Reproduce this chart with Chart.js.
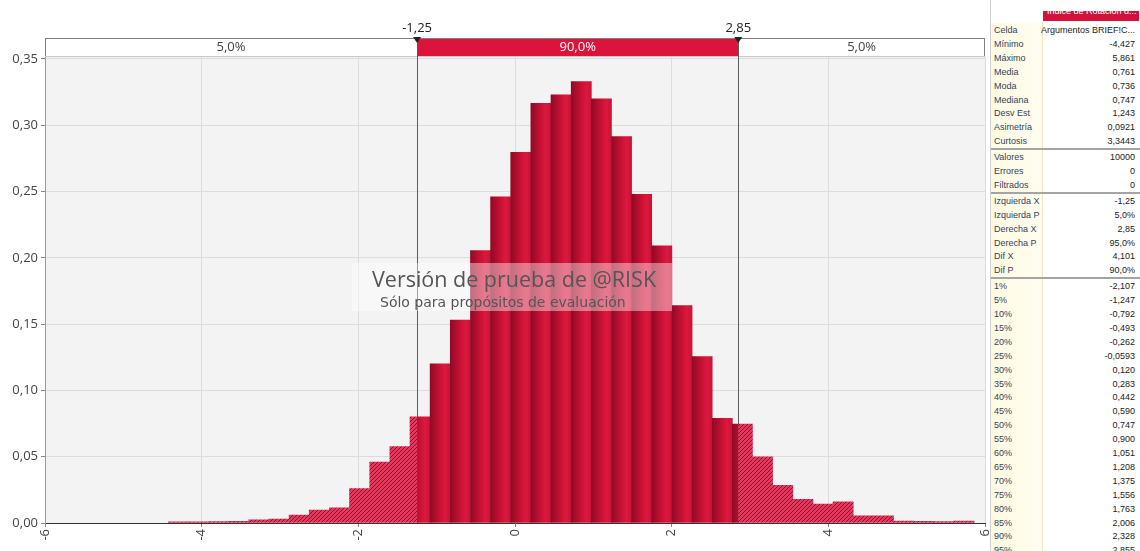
<!DOCTYPE html>
<html>
<head>
<meta charset="utf-8">
<script src="https://cdn.jsdelivr.net/npm/chart.js@4.4.1/dist/chart.umd.min.js"></script>
<style>
  body { margin: 0; background: #fff; width: 1140px; height: 551px; overflow: hidden; position: relative; }
  #wrap { position: absolute; left: 0; top: 0; width: 990px; height: 551px; }
  #stats { position: absolute; left: 990px; top: 0; width: 150px; height: 551px; overflow: hidden;
           font-family: "Liberation Sans", Arial, sans-serif; font-size: 9px; color: #222;
           border-left: 1px solid #cfcfcf; box-sizing: border-box; }
  #stats .lcol { position: absolute; left: 0; top: 23px; width: 51px; bottom: 0;
                 background: linear-gradient(to right, #fffbe2, #fffdf0); border-right: 1px solid #eee6c0; }
  #stats .head { position: absolute; left: 52px; top: 11px; width: 96px; height: 10px; overflow: hidden;
                 background: #d3123c; color: #fff; }
  #stats .head span { position: absolute; left: 4px; top: -5px; white-space: nowrap; }
  #stats .row { position: absolute; left: 0; width: 148px; height: 14px; line-height: 14px; }
  #stats .row .k { position: absolute; left: 3px; color: #34425a; white-space: nowrap; }
  #stats .row .v { position: absolute; right: 4px; white-space: nowrap; }
  #stats .sep { position: absolute; left: 0; width: 150px; height: 2px; background: #a4a4a4; }
</style>
</head>
<body>
<div id="wrap"><canvas id="histChart" width="990" height="551"></canvas></div>
<div id="stats"></div>

<script>
// histogram bins (centres) and density
const binCenters = [-4.298, -4.041, -3.784, -3.527, -3.270, -3.012, -2.755, -2.498, -2.241, -1.984,
                    -1.726, -1.469, -1.212, -0.955, -0.698, -0.440, -0.183, 0.074, 0.331, 0.588,
                    0.846, 1.103, 1.360, 1.617, 1.874, 2.132, 2.389, 2.646, 2.903, 3.160,
                    3.418, 3.675, 3.932, 4.189, 4.446, 4.704, 4.961, 5.218, 5.475, 5.732];
const density = [0.0008, 0.0008, 0.0010, 0.0012, 0.0023, 0.0030, 0.0060, 0.0098, 0.0115, 0.0260,
                 0.0460, 0.0576, 0.0800, 0.1200, 0.1530, 0.2054, 0.2460, 0.2796, 0.3166, 0.3229,
                 0.3330, 0.3200, 0.2914, 0.2480, 0.2090, 0.1640, 0.1255, 0.0790, 0.0747, 0.0500,
                 0.0284, 0.0179, 0.0143, 0.0160, 0.0055, 0.0055, 0.0015, 0.0013, 0.0010, 0.0015];
const binWidth = 0.2572;

const cutValues = [-1.25, 2.85];
const cutLabels = ["-1,25", "2,85"];
const bandLabels = ["5,0%", "90,0%", "5,0%"];

const yTicks = [0, 0.05, 0.10, 0.15, 0.20, 0.25, 0.30, 0.35];
const xTicks = [-6, -4, -2, 0, 2, 4, 6];

// stats table on the right
const statHeader = "Índice de Rotación d...";
const statNames = ["Celda", "Mínimo", "Máximo", "Media", "Moda", "Mediana", "Desv Est", "Asimetría", "Curtosis",
                   "Valores", "Errores", "Filtrados",
                   "Izquierda X", "Izquierda P", "Derecha X", "Derecha P", "Dif X", "Dif P",
                   "1%", "5%", "10%", "15%", "20%", "25%", "30%", "35%", "40%", "45%", "50%",
                   "55%", "60%", "65%", "70%", "75%", "80%", "85%", "90%", "95%"];
const statValues = ["Argumentos BRIEF!C...", "-4,427", "5,861", "0,761", "0,736", "0,747", "1,243", "0,0921", "3,3443",
                    "10000", "0", "0",
                    "-1,25", "5,0%", "2,85", "95,0%", "4,101", "90,0%",
                    "-2,107", "-1,247", "-0,792", "-0,493", "-0,262", "-0,0593", "0,120", "0,283", "0,442", "0,590", "0,747",
                    "0,900", "1,051", "1,208", "1,375", "1,556", "1,763", "2,006", "2,328", "2,855"];
const statBreaks = [8, 11, 17]; // separator under these rows

// build the table
const stats = document.getElementById("stats");
stats.innerHTML = '<div class="lcol"></div><div class="head"><span>' + statHeader + '</span></div>';
let rowY = 23;
const rowH = 13.9;
statNames.forEach((name, i) => {
    const r = document.createElement("div");
    r.className = "row";
    r.style.top = rowY + "px";
    r.innerHTML = '<span class="k">' + name + '</span><span class="v">' + statValues[i] + '</span>';
    stats.appendChild(r);
    rowY += rowH;
    if (statBreaks.includes(i)) {
        const s = document.createElement("div");
        s.className = "sep";
        s.style.top = (rowY) + "px";
        stats.appendChild(s);
        rowY += 2;
    }
});

const canvas = document.getElementById("histChart");
const ctx = canvas.getContext("2d");

// hatch pattern for the tails
const pc = document.createElement("canvas");
pc.width = 4; pc.height = 4;
const p = pc.getContext("2d");
p.fillStyle = "#e8365c";
p.fillRect(0, 0, 4, 4);
p.strokeStyle = "#8c0f2c";
p.lineWidth = 1;
p.beginPath();
p.moveTo(0, 4); p.lineTo(4, 0);
p.moveTo(-1, 1); p.lineTo(1, -1);
p.moveTo(3, 5); p.lineTo(5, 3);
p.stroke();
const hatch = ctx.createPattern(pc, "repeat");

// per bar shading of the middle part
function solidFill(c) {
    const chart = c.chart;
    if (c.type !== "data" || !chart.chartArea || !c.parsed) return "#c8102f";
    const xs = chart.scales.x;
    const px = xs.getPixelForValue(c.parsed.x);
    const half = (xs.getPixelForValue(binWidth) - xs.getPixelForValue(0)) / 2;
    const g = chart.ctx.createLinearGradient(px - half, 0, px + half, 0);
    g.addColorStop(0, "#900a26");
    g.addColorStop(0.4, "#c00f30");
    g.addColorStop(0.75, "#dc183e");
    g.addColorStop(1, "#c81335");
    return g;
}

const points = binCenters.map((x, i) => ({ x: x, y: density[i] }));

const font13 = { family: "'Open Sans', sans-serif", size: 13 };

// grey plot background
const plotBg = {
    id: "plotBg",
    beforeDraw(chart) {
        const a = chart.chartArea;
        chart.ctx.save();
        chart.ctx.fillStyle = "#f3f3f3";
        chart.ctx.fillRect(a.left, a.top, a.right - a.left, a.bottom - a.top);
        chart.ctx.restore();
    }
};

// tails get hatch, middle gets solid
const splitClip = {
    id: "splitClip",
    beforeDatasetDraw(chart, args) {
        const a = chart.chartArea;
        const xs = chart.scales.x;
        const xl = xs.getPixelForValue(cutValues[0]);
        const xr = xs.getPixelForValue(cutValues[1]);
        const c = chart.ctx;
        c.save();
        c.beginPath();
        if (args.index === 0) {
            c.rect(a.left, a.top, xl - a.left, a.bottom - a.top);
            c.rect(xr, a.top, a.right - xr, a.bottom - a.top);
        } else {
            c.rect(xl, a.top, xr - xl, a.bottom - a.top);
        }
        c.clip();
    },
    afterDatasetDraw(chart) {
        chart.ctx.restore();
    }
};

// the percent band on top and the two cut lines
const band = {
    id: "band",
    beforeDatasetsDraw(chart) {
        const a = chart.chartArea;
        const xs = chart.scales.x;
        const c = chart.ctx;
        const top = 38, bot = a.top;
        const xl = xs.getPixelForValue(cutValues[0]);
        const xr = xs.getPixelForValue(cutValues[1]);
        c.save();
        c.fillStyle = "#fff";
        c.fillRect(a.left, top, a.right - a.left, bot - top);
        c.fillStyle = "#dc143c";
        c.fillRect(xl, top, xr - xl, bot - top);
        c.strokeStyle = "#808080";
        c.lineWidth = 1;
        c.beginPath();
        c.moveTo(a.left, top + 0.5); c.lineTo(a.right, top + 0.5);
        c.moveTo(a.left + 0.5, top); c.lineTo(a.left + 0.5, bot);
        c.moveTo(a.right - 0.5, top); c.lineTo(a.right - 0.5, bot);
        c.stroke();
        c.strokeStyle = "#c8c8c8";
        c.beginPath();
        c.moveTo(a.left, bot - 0.5); c.lineTo(a.right, bot - 0.5);
        c.stroke();

        // cut lines
        c.strokeStyle = "#5c5c5c";
        c.beginPath();
        [xl, xr].forEach(x => {
            c.moveTo(Math.round(x) + 0.5, top);
            c.lineTo(Math.round(x) + 0.5, a.bottom);
        });
        c.stroke();

        c.font = "13px 'Open Sans', sans-serif";
        c.textAlign = "center";
        c.textBaseline = "middle";
        const mid = (top + bot) / 2;
        c.fillStyle = "#444";
        c.fillText(bandLabels[0], (a.left + xl) / 2, mid);
        c.fillText(bandLabels[2], (xr + a.right) / 2, mid);
        c.fillStyle = "#fff";
        c.fillText(bandLabels[1], (xl + xr) / 2, mid);

        c.fillStyle = "#222";
        [xl, xr].forEach((x, i) => {
            c.fillText(cutLabels[i], x, 28);
            c.beginPath();
            c.moveTo(x - 4, top - 1);
            c.lineTo(x + 4, top - 1);
            c.lineTo(x, top + 5);
            c.closePath();
            c.fill();
        });
        c.restore();
    }
};

// trial watermark
const watermark = {
    id: "watermark",
    afterDatasetsDraw(chart) {
        const c = chart.ctx;
        c.save();
        c.fillStyle = "rgba(255,255,255,0.42)";
        c.fillRect(352, 263, 320, 48);
        c.fillStyle = "#555";
        c.textAlign = "left";
        c.textBaseline = "alphabetic";
        c.font = "21.5px 'Open Sans', sans-serif";
        c.fillText("Versión de prueba de @RISK", 372, 287);
        c.font = "14px 'DejaVu Sans', sans-serif";
        c.fillText("Sólo para propósitos de evaluación", 380, 307);
        c.restore();
    }
};

const chart = new Chart(ctx, {
    type: "bar",
    data: {
        datasets: [
            {
                label: "colas",
                data: points,
                backgroundColor: hatch,
                borderWidth: 0,
                grouped: false,
                barPercentage: 1,
                categoryPercentage: 1
            },
            {
                label: "centro",
                data: points,
                backgroundColor: solidFill,
                borderWidth: 0,
                grouped: false,
                barPercentage: 1,
                categoryPercentage: 1
            }
        ]
    },
    options: {
        responsive: false,
        animation: false,
        devicePixelRatio: 1,
        layout: { padding: { top: 57, right: 5, left: 0, bottom: 0 } },
        plugins: {
            legend: { display: false },
            tooltip: { enabled: false }
        },
        scales: {
            x: {
                type: "linear",
                min: -6,
                max: 6,
                offset: false,
                afterBuildTicks: s => { s.ticks = xTicks.map(v => ({ value: v })); },
                afterFit: s => { s.height = 28; s.paddingLeft = 0; s.paddingRight = 0; },
                ticks: {
                    minRotation: 90,
                    maxRotation: 90,
                    autoSkip: false,
                    color: "#444",
                    font: font13,
                    padding: 2,
                    callback: v => String(v)
                },
                grid: { offset: false, color: "#dcdcdc", tickLength: 4, tickColor: "#888" },
                border: { color: "#333" }
            },
            y: {
                min: 0,
                max: 0.3515,
                afterBuildTicks: s => { s.ticks = yTicks.map(v => ({ value: v })); },
                afterFit: s => { s.width = 45; },
                ticks: {
                    color: "#444",
                    font: font13,
                    padding: 3,
                    callback: v => v.toFixed(2).replace(".", ",")
                },
                grid: { color: "#dcdcdc", tickLength: 4, tickColor: "#888" },
                border: { color: "#9a9a9a" }
            }
        }
    },
    plugins: [plotBg, splitClip, band, watermark]
});
</script>
</body>
</html>
